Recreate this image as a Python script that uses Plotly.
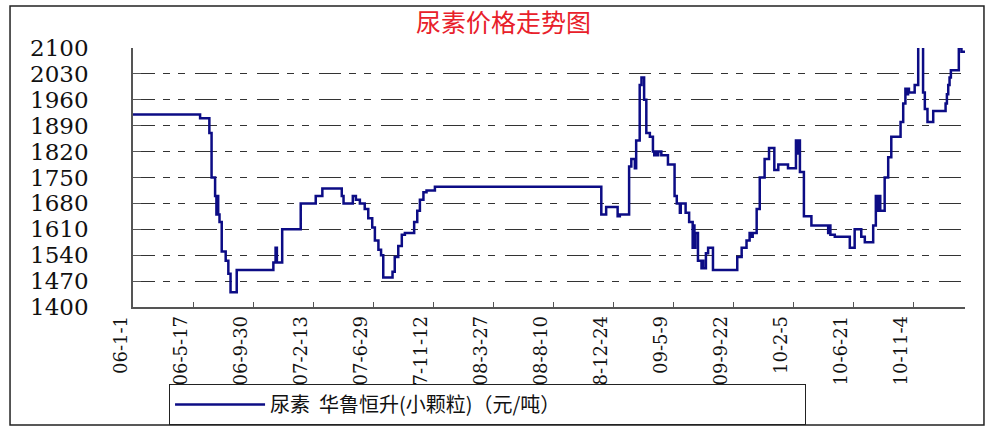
import plotly.graph_objects as go

# ---- data ----
dates = [
    "2006-01-01", "2006-06-02", "2006-06-23", "2006-06-28", "2006-07-06", "2006-07-09",
    "2006-07-11", "2006-07-13", "2006-07-16", "2006-07-21", "2006-07-30", "2006-08-05",
    "2006-08-10", "2006-08-24", "2006-11-15", "2006-11-20", "2006-11-23", "2006-12-05",
    "2007-01-16", "2007-02-19", "2007-03-06", "2007-04-19", "2007-04-23", "2007-05-14",
    "2007-05-21", "2007-05-30", "2007-06-10", "2007-06-18", "2007-06-27", "2007-07-03",
    "2007-07-11", "2007-07-17", "2007-07-22", "2007-08-12", "2007-08-17", "2007-08-25",
    "2007-09-02", "2007-09-09", "2007-09-30", "2007-10-07", "2007-10-13", "2007-10-21",
    "2007-10-28", "2007-11-16", "2008-11-27", "2008-12-08", "2009-01-03", "2009-01-08",
    "2009-01-29", "2009-02-03", "2009-02-11", "2009-02-14", "2009-02-22", "2009-02-26",
    "2009-03-04", "2009-03-09", "2009-03-17", "2009-03-24", "2009-03-27", "2009-03-30",
    "2009-04-02", "2009-04-05", "2009-04-12", "2009-04-27", "2009-05-12", "2009-05-17",
    "2009-05-24", "2009-05-26", "2009-06-06", "2009-06-14", "2009-06-22", "2009-06-24",
    "2009-06-26", "2009-06-28", "2009-07-04", "2009-07-12", "2009-07-14", "2009-07-16",
    "2009-07-22", "2009-07-27", "2009-08-07", "2009-10-01", "2009-10-11", "2009-10-22",
    "2009-10-29", "2009-11-02", "2009-11-05", "2009-11-14", "2009-11-21", "2009-12-02",
    "2009-12-12", "2009-12-24", "2010-01-02", "2010-01-24", "2010-02-11", "2010-02-14",
    "2010-02-17", "2010-02-20", "2010-03-01", "2010-03-18", "2010-04-25", "2010-04-27",
    "2010-04-30", "2010-05-10", "2010-05-28", "2010-06-13", "2010-06-24", "2010-07-09",
    "2010-07-17", "2010-08-05", "2010-08-11", "2010-08-14", "2010-08-16", "2010-08-21",
    "2010-08-31", "2010-09-08", "2010-09-15", "2010-10-06", "2010-10-12", "2010-10-17",
    "2010-10-20", "2010-10-23", "2010-10-25", "2010-11-07", "2010-11-15", "2010-11-26",
    "2010-11-30", "2010-12-06", "2010-12-19", "2011-01-16", "2011-01-19", "2011-01-22",
    "2011-01-25", "2011-01-28", "2011-02-15", "2011-02-21", "2011-03-01",
]
prices = [
    1920, 1910, 1870, 1750, 1700, 1650,
    1700, 1650, 1630, 1550, 1525, 1490,
    1440, 1500, 1520, 1560, 1520, 1610,
    1680, 1700, 1720, 1700, 1680, 1700,
    1690, 1680, 1665, 1640, 1615, 1580,
    1555, 1540, 1480, 1495, 1535, 1565,
    1595, 1600, 1630, 1660, 1690, 1710,
    1715, 1725, 1650, 1670, 1645, 1650,
    1780, 1800, 1775, 1850, 2000, 2020,
    1960, 1870, 1860, 1820, 1810, 1820,
    1810, 1820, 1810, 1785, 1700, 1680,
    1655, 1680, 1655, 1630, 1560, 1620,
    1560, 1600, 1525, 1505, 1525, 1505,
    1545, 1560, 1500, 1535, 1560, 1580,
    1600, 1590, 1600, 1665, 1750, 1800,
    1830, 1770, 1785, 1775, 1850, 1815,
    1850, 1765, 1645, 1620, 1600, 1620,
    1595, 1590, 1590, 1560, 1610, 1590,
    1575, 1620, 1700, 1660, 1700, 1660,
    1750, 1805, 1860, 1900, 1950, 1990,
    1975, 1990, 1980, 2000, 2150, 1980,
    1935, 1900, 1930, 1950, 1975, 2000,
    2020, 2040, 2100, 2090, 2090,
]

tick_dates = [
    "2006-01-01", "2006-05-17", "2006-09-30", "2007-02-13", "2007-06-29", "2007-11-12",
    "2008-03-27", "2008-08-10", "2008-12-24", "2009-05-09", "2009-09-22", "2010-02-05",
    "2010-06-21", "2010-11-04",
]
tick_labels = [
    "06-1-1", "06-5-17", "06-9-30", "07-2-13", "07-6-29", "07-11-12",
    "08-3-27", "08-8-10", "08-12-24", "09-5-9", "09-9-22", "10-2-5",
    "10-6-21", "10-11-4",
]
y_ticks = [1400, 1470, 1540, 1610, 1680, 1750, 1820, 1890, 1960, 2030, 2100]

title_text = "尿素价格走势图"
series_name = "尿素  华鲁恒升(小颗粒)（元/吨）"

fig = go.Figure()
fig.add_trace(go.Scatter(
    x=dates, y=prices, mode="lines", name=series_name,
    line=dict(color="#0c0c85", width=2.5, shape="hv"),
    showlegend=True,
))

serif = "DejaVu Serif, Liberation Serif, serif"

fig.update_layout(
    width=995, height=432,
    margin=dict(l=133, r=30, t=48, b=125, autoexpand=False),
    paper_bgcolor="white", plot_bgcolor="white",
    title=dict(text=title_text, xref="container", x=0.506, xanchor="center",
               yref="container", y=0.947, yanchor="middle",
               font=dict(family="Noto Sans CJK SC", size=25, color="#e8202a")),
    showlegend=True,
    legend=dict(orientation="h", xref="container", yref="container",
                x=0.49, xanchor="center", y=0.016, yanchor="bottom",
                bordercolor="#222", borderwidth=1, entrywidth=530, itemwidth=90,
                tracegroupgap=0,
                font=dict(family="Noto Sans CJK SC", size=20, color="#111")),
    xaxis=dict(
        type="date", range=["2006-01-01", "2011-03-01"], automargin=False,
        tickmode="array", tickvals=tick_dates, ticktext=tick_labels,
        tickangle=-90, ticks="inside", ticklen=5, tickcolor="#555",
        showline=True, linecolor="#555", linewidth=1.5, showgrid=False, zeroline=False,
        ticklabelshift=-12,
        tickfont=dict(family=serif, size=18, color="#111"),
    ),
    yaxis=dict(
        range=[1400, 2100], tickmode="array", tickvals=y_ticks, automargin=False,
        ticks="inside", ticklen=8, tickcolor="#555",
        showline=True, linecolor="#555", linewidth=1.5,
        showgrid=True, gridcolor="#333", gridwidth=1,
        griddash="22px,8px,7px,8px,7px,10px", zeroline=False,
        ticklabelstandoff=38,
        tickfont=dict(family=serif, size=23, color="#111"),
    ),
    shapes=[dict(type="rect", xref="paper", yref="paper",
                 x0=-0.1478, x1=1.0228, y0=-0.4556, y1=1.162,
                 line=dict(color="#222", width=1.5), layer="above")],
)

fig.write_html("out.html", config={"displayModeBar": False},
               post_script="document.body.style.margin='0';")
